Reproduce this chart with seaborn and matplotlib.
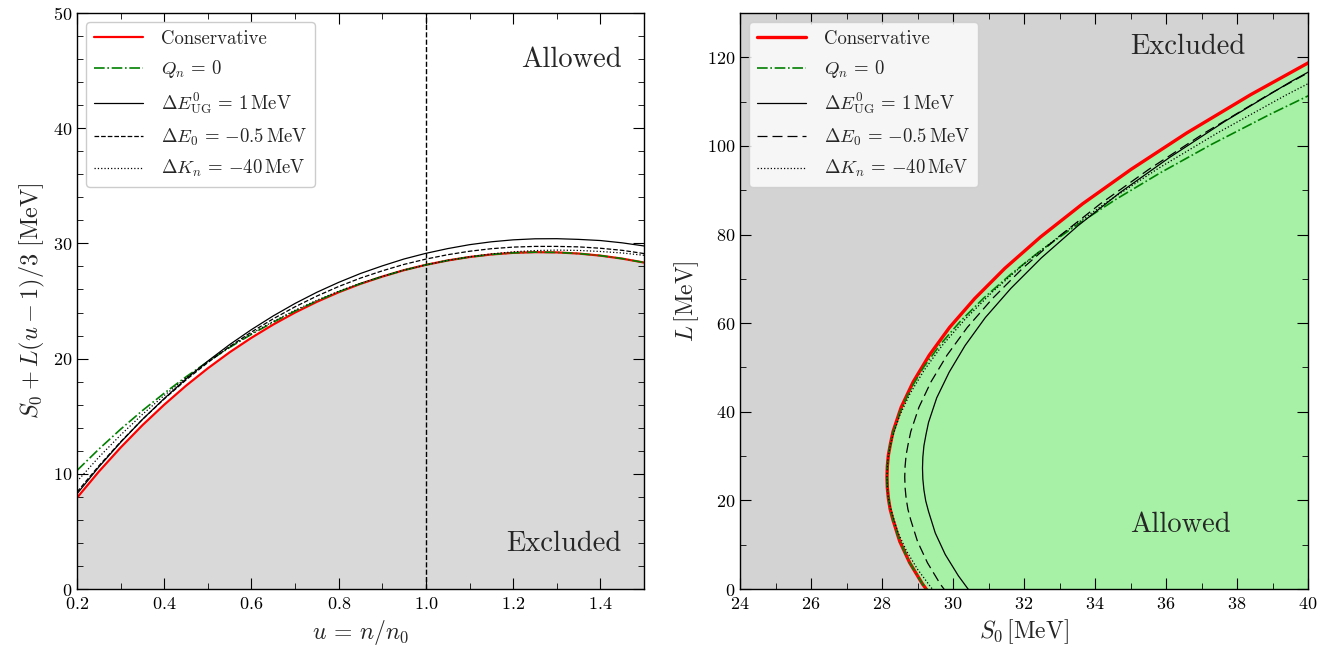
import matplotlib
matplotlib.use("Agg")
import matplotlib.pyplot as plt
import seaborn as sns
from matplotlib.ticker import MultipleLocator

# ---- left panel: lower bound of S0 + L(u-1)/3 vs u = n/n0 ----
u_vals = [0.20, 0.25, 0.30, 0.35, 0.40, 0.45, 0.50, 0.55, 0.60, 0.65, 0.70,
          0.75, 0.80, 0.85, 0.90, 0.95, 1.00, 1.05, 1.10, 1.15, 1.20, 1.25,
          1.30, 1.35, 1.40, 1.45, 1.50]
cons_left = [7.92, 10.19, 12.28, 14.22, 16.00, 17.65, 19.16, 20.55, 21.81, 22.96, 24.00,
             24.93, 25.76, 26.49, 27.12, 27.68, 28.14, 28.52, 28.82, 29.04, 29.18, 29.24,
             29.22, 29.12, 28.94, 28.68, 28.34]
qn0_left = [10.29, 12.14, 13.87, 15.49, 17.00, 18.42, 19.74, 20.97, 22.11, 23.16, 24.13,
            25.00, 25.80, 26.51, 27.13, 27.68, 28.14, 28.52, 28.82, 29.04, 29.18, 29.24,
            29.22, 29.12, 28.94, 28.68, 28.34]
eug_left = [8.26, 10.59, 12.73, 14.72, 16.54, 18.24, 19.79, 21.22, 22.52, 23.71, 24.79,
            25.76, 26.62, 27.39, 28.05, 28.65, 29.14, 29.55, 29.89, 30.14, 30.31, 30.40,
            30.41, 30.35, 30.25, 30.05, 29.78]
e0_left = [8.42, 10.69, 12.78, 14.72, 16.50, 18.15, 19.66, 21.05, 22.31, 23.46, 24.50,
           25.43, 26.26, 26.99, 27.62, 28.18, 28.64, 29.02, 29.32, 29.54, 29.68, 29.74,
           29.74, 29.70, 29.58, 29.40, 29.12]
kn_left = [9.34, 11.44, 13.37, 15.16, 16.80, 18.32, 19.72, 21.00, 22.17, 23.23, 24.20,
           25.07, 25.85, 26.54, 27.14, 27.69, 28.14, 28.53, 28.84, 29.09, 29.27, 29.38,
           29.42, 29.39, 29.30, 29.17, 28.97]

# ---- right panel: (S0, L) boundaries, upper branch first ----
cons_S0 = [40.45, 38.38, 36.58, 35.02, 33.65, 32.47, 31.46, 30.61, 29.90, 29.33, 28.88,
           28.54, 28.31, 28.24, 28.18, 28.15, 28.14, 28.15, 28.18, 28.23, 28.31, 28.50,
           28.78, 29.14, 29.58]
cons_L = [120.72, 111.55, 102.91, 94.74, 86.94, 79.49, 72.38, 65.55, 59.02, 52.76, 46.77,
          41.03, 35.53, 32.88, 30.29, 27.75, 25.28, 22.84, 20.40, 17.98, 15.57, 10.73,
          5.92, 1.13, -3.64]
qn0_S0 = [40.88, 38.93, 37.27, 35.84, 34.58, 33.48, 32.49, 31.63, 30.87, 30.21, 29.65, 29.18,
          28.80, 28.51, 28.30, 28.23, 28.18, 28.15, 28.14, 28.15, 28.18, 28.23, 28.31, 28.50,
          28.78, 29.14, 29.58]
qn0_L = [114.70, 107.14, 100.30, 93.94, 87.91, 82.13, 76.52, 71.05, 65.71, 60.45, 55.27, 50.16,
         45.10, 40.09, 35.11, 32.65, 30.19, 27.73, 25.28, 22.84, 20.40, 17.98, 15.57, 10.73,
         5.92, 1.13, -3.64]
eug_S0 = [41.60, 39.49, 37.67, 36.09, 34.70, 33.51, 32.49, 31.63, 30.91, 30.34, 29.89,
          29.54, 29.31, 29.24, 29.18, 29.15, 29.14, 29.15, 29.18, 29.23, 29.31, 29.50,
          29.78, 30.15, 30.59]
eug_L = [123.71, 114.39, 105.62, 97.35, 89.46, 81.93, 74.75, 67.86, 61.27, 54.96, 48.92,
         43.14, 37.60, 34.93, 32.32, 29.77, 27.28, 24.82, 22.37, 19.93, 17.51, 12.64,
         7.80, 2.99, -1.81]
e0_S0 = [40.95, 38.88, 37.08, 35.52, 34.15, 32.97, 31.96, 31.11, 30.40, 29.83, 29.38,
         29.04, 28.81, 28.74, 28.68, 28.65, 28.64, 28.65, 28.68, 28.73, 28.81, 29.00,
         29.28, 29.64, 30.08]
e0_L = [120.72, 111.55, 102.91, 94.74, 86.94, 79.49, 72.38, 65.55, 59.02, 52.76, 46.77,
        41.03, 35.53, 32.88, 30.29, 27.75, 25.28, 22.84, 20.40, 17.98, 15.57, 10.73,
        5.92, 1.13, -3.64]
kn_S0 = [41.58, 39.36, 37.44, 35.78, 34.35, 33.10, 32.02, 31.11, 30.34, 29.70, 29.19, 28.79,
         28.49, 28.29, 28.22, 28.17, 28.15, 28.14, 28.15, 28.17, 28.22, 28.29, 28.45, 28.69,
         29.00, 29.38, 29.82]
kn_L = [120.59, 111.40, 102.89, 94.92, 87.41, 80.28, 73.50, 67.05, 60.89, 55.02, 49.43, 44.11,
        39.03, 34.20, 31.88, 29.62, 27.42, 25.28, 23.17, 21.07, 18.98, 16.90, 12.73, 8.58,
        4.46, 0.36, -3.74]

labels = ['Conservative',
          r'$Q_n \,=\, 0$',
          r'$\Delta E^0_{\rm UG} \,=\, 1\,{\rm MeV}$',
          r'$\Delta E_0 \,=\, {-0.5}\,{\rm MeV}$',
          r'$\Delta K_n \,=\, {-40}\,{\rm MeV}$']

sns.set_style('ticks')
plt.rcParams.update({
    'font.family': 'serif',
    'font.serif': ['cmr10', 'DejaVu Serif'],
    'mathtext.fontset': 'cm',
    'axes.formatter.use_mathtext': True,
    'axes.edgecolor': 'black',
    'axes.linewidth': 1.0,
    'xtick.direction': 'in', 'ytick.direction': 'in',
    'xtick.top': True, 'ytick.right': True,
    'xtick.color': 'black', 'ytick.color': 'black',
    'xtick.major.size': 8, 'ytick.major.size': 8,
    'xtick.minor.size': 4, 'ytick.minor.size': 4,
    'xtick.labelsize': 13, 'ytick.labelsize': 13,
    'xtick.major.pad': 5,
})


def line(ax, x, y, **kw):
    sns.lineplot(x=x, y=y, ax=ax, sort=False, estimator=None, **kw)


def style_axes(ax, xmaj, xmin, ymaj, ymin):
    ax.xaxis.set_major_locator(MultipleLocator(xmaj))
    ax.xaxis.set_minor_locator(MultipleLocator(xmin))
    ax.yaxis.set_major_locator(MultipleLocator(ymaj))
    ax.yaxis.set_minor_locator(MultipleLocator(ymin))
    ax.tick_params(which='both', direction='in', top=True, right=True)


def add_legend(ax, alpha):
    ax.legend(loc='upper left', fontsize=13.5, handlelength=2.6, handletextpad=1.0,
              labelspacing=0.55, framealpha=alpha, edgecolor='0.8', fancybox=True)


fig = plt.figure(figsize=(13.3, 6.5), dpi=100)
ax1 = fig.add_axes([0.0579, 0.0938, 0.4263, 0.8862])
ax2 = fig.add_axes([0.5564, 0.0938, 0.4271, 0.8862])

# left panel
ax1.fill_between(u_vals, 0, cons_left, color='#d9d9d9', lw=0, zorder=0)
line(ax1, u_vals, cons_left, color='red', lw=1.6, label=labels[0])
line(ax1, u_vals, qn0_left, color='green', lw=1.2, linestyle='-.', label=labels[1])
line(ax1, u_vals, eug_left, color='black', lw=0.9, label=labels[2])
line(ax1, u_vals, e0_left, color='black', lw=0.9, linestyle='--', label=labels[3])
line(ax1, u_vals, kn_left, color='black', lw=0.9, linestyle=':', label=labels[4])
ax1.axvline(1.0, color='black', lw=1.0, linestyle='--', zorder=1)
ax1.set_xlim(0.2, 1.5)
ax1.set_ylim(0, 50)
style_axes(ax1, 0.2, 0.1, 10, 2)
ax1.set_xlabel(r'$u \,=\, n/n_0$', fontsize=17)
ax1.set_ylabel(r'$S_0 + L(u-1)/3\ [\mathrm{MeV}]$', fontsize=17.5)
ax1.text(0.96, 0.918, 'Allowed', transform=ax1.transAxes, ha='right', va='center', fontsize=20.5)
ax1.text(0.96, 0.078, 'Excluded', transform=ax1.transAxes, ha='right', va='center', fontsize=20.5)
add_legend(ax1, 1.0)

# right panel
ax2.set_facecolor('#d3d3d3')
ax2.fill_betweenx(cons_L, cons_S0, 40, color='#a6f1a6', lw=0, zorder=0)
line(ax2, cons_S0, cons_L, color='red', lw=2.4, label=labels[0])
line(ax2, qn0_S0, qn0_L, color='green', lw=1.2, linestyle='-.', label=labels[1])
line(ax2, eug_S0, eug_L, color='black', lw=0.9, label=labels[2])
line(ax2, e0_S0, e0_L, color='black', lw=0.9, linestyle=(0, (8, 4)), label=labels[3])
line(ax2, kn_S0, kn_L, color='black', lw=0.9, linestyle=':', label=labels[4])
ax2.set_xlim(24, 40)
ax2.set_ylim(0, 130)
style_axes(ax2, 2, 1, 20, 10)
ax2.set_xlabel(r'$S_0\,[\mathrm{MeV}]$', fontsize=17)
ax2.set_ylabel(r'$L\,[\mathrm{MeV}]$', fontsize=17)
ax2.text(0.789, 0.941, 'Excluded', transform=ax2.transAxes, ha='center', va='center', fontsize=20.5)
ax2.text(0.775, 0.111, 'Allowed', transform=ax2.transAxes, ha='center', va='center', fontsize=20.5)
add_legend(ax2, 0.8)

fig.savefig('out.png', dpi=100)
